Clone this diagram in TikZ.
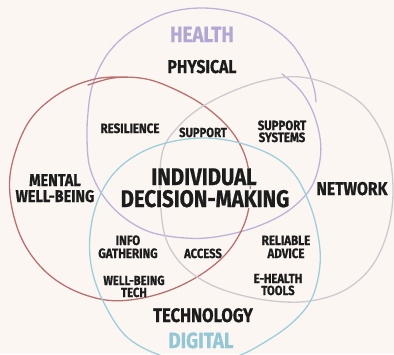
\documentclass[tikz,border=0pt]{standalone}
\usepackage{fontspec}
\newfontfamily\lab{Fira Sans}[FakeStretch=0.85, BoldFeatures={FakeBold=0.8}]
\definecolor{bg}{HTML}{FCF6F3}
\definecolor{cpurple}{HTML}{BDB3D8}
\definecolor{cred}{HTML}{B9716F}
\definecolor{cgray}{HTML}{CEC9CD}
\definecolor{cteal}{HTML}{9DCFDB}
\definecolor{ink}{HTML}{1C1C1C}
\definecolor{thealth}{HTML}{B2A7D3}
\definecolor{tdigital}{HTML}{93C7D6}
\tikzset{
  loopline/.style={line width=1.3pt, line cap=round, line join=round},
  lbl/.style={anchor=base, inner sep=0pt, text depth=0pt, text=ink, font=\lab\bfseries\fontsize{#1}{#1}\selectfont},
  lbl/.default=13.6,
  core/.style={anchor=base, inner sep=0.5pt, text depth=0pt, fill=bg, text=ink, font=\lab\bfseries\fontsize{24}{24}\selectfont},
}
\begin{document}
\begin{tikzpicture}[x=1pt,y=-1pt]
\fill[bg] (0,0) rectangle (394,354);
\useasboundingbox (0,0) rectangle (394,354);
\clip (0,0) rectangle (394,354);
% health (purple)
\draw[loopline, cpurple] plot[smooth, tension=0.6] coordinates {(282,74) (300,90) (313,112) (320,138) (320,160) (313,184) (300,201) (280,216) (250,229) (215,237) (185,238) (150,232) (122,216) (102,194) (90,168) (87,140) (88,113) (92,87) (103,61) (118,42) (138,27) (167,13) (200,8) (235,12) (265,23) (290,42) (306,66) (314,88) (316,102)};
% mental (red)
\draw[loopline, cred] plot[smooth, tension=0.6] coordinates {(88,85) (113,78) (140,78) (165,85) (200,103) (228,127) (244,153) (250,182) (248,212) (238,237) (222,258) (197,277) (165,292) (130,300) (100,299) (67,287) (40,266) (20,235) (10,195) (13,160) (30,120) (60,93) (95,79) (125,77)};
% network (gray)
\draw[loopline, cgray] plot[smooth cycle, tension=0.6] coordinates {(160,185) (163,150) (177,128) (200,108) (233,91) (267,80) (300,77) (333,86) (365,107) (386,143) (393,187) (388,230) (372,266) (345,290) (310,301) (273,301) (233,293) (202,280) (178,260) (164,232)};
% digital (teal)
\draw[loopline, cteal] plot[smooth cycle, tension=0.6] coordinates {(205,138) (240,143) (273,156) (295,175) (310,205) (318,235) (320,265) (312,298) (293,322) (265,342) (235,357) (200,362) (165,357) (128,338) (105,305) (92,270) (90,235) (98,200) (115,172) (140,153) (170,142)};
% labels
\node[lbl=22, text=thealth] (health) at (202,42) {HEALTH};
\node[lbl=18.5] (physical) at (202,73) {PHYSICAL};
\node[lbl] (resilience) at (130,133) {RESILIENCE};
\node[lbl=13.2] (support) at (203,137) {SUPPORT};
\node[lbl=13.4] (supsys1) at (282,130) {SUPPORT};
\node[lbl=13.4] (supsys2) at (282,142) {SYSTEMS};
\node[lbl=17] (mental1) at (55,186) {MENTAL};
\node[lbl=17] (mental2) at (55,202) {WELL-BEING};
\node[core] (indiv1) at (204,185) {INDIVIDUAL};
\node[core] (indiv2) at (205,207) {DECISION-MAKING};
\node[lbl=18.5] (network) at (352,195) {NETWORK};
\node[lbl] (info1) at (128,245) {INFO};
\node[lbl] (info2) at (128,258) {GATHERING};
\node[lbl=13.2] (access) at (203,258) {ACCESS};
\node[lbl=13.2] (wbtech1) at (134,285) {WELL-BEING};
\node[lbl=13.2] (wbtech2) at (134,297) {TECH};
\node[lbl] (reliable1) at (286,245) {RELIABLE};
\node[lbl] (reliable2) at (286,258) {ADVICE};
\node[lbl=13.2] (ehealth1) at (278,283) {E-HEALTH};
\node[lbl=13.2] (ehealth2) at (278,295) {TOOLS};
\node[lbl=19.5] (technology) at (203,322) {TECHNOLOGY};
\node[lbl=22, text=tdigital] (digital) at (201,348) {DIGITAL};
\end{tikzpicture}
\end{document}
